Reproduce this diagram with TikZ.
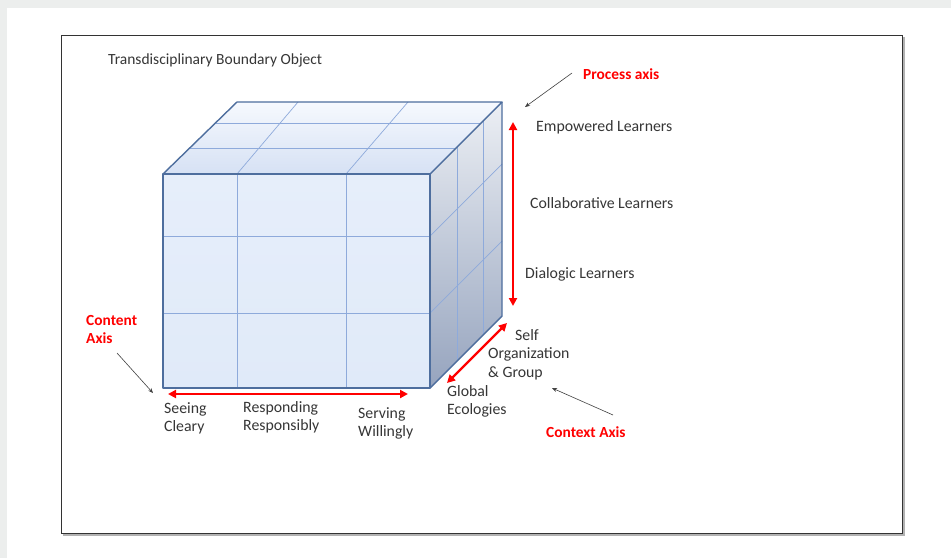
\documentclass[tikz,border=0pt]{standalone}
\usepackage{fontspec}
\setmainfont{Carlito}
\usetikzlibrary{arrows.meta,calc}

\definecolor{pagegray}{HTML}{ECEEED}
\definecolor{edgeblue}{HTML}{4E6E9E}
\definecolor{gridblue}{HTML}{8EAADB}
\definecolor{labelgray}{HTML}{363636}
\definecolor{axisred}{HTML}{FF0000}
\newcommand{\lblfont}{\fontsize{15.8}{18.5}\selectfont}

\begin{document}
\begin{tikzpicture}[x=1pt,y=-1pt]
    \tikzstyle{lbltext} = [anchor=base west, inner sep=0pt, text=labelgray, font=\lblfont, align=left]
    \tikzstyle{axisname} = [lbltext, text=axisred, font=\fontsize{15.4}{18.5}\selectfont\bfseries]
    \tikzstyle{redaxis} = [draw=axisred, line width=2.4pt, {Triangle[length=8pt,width=8pt]}-{Triangle[length=8pt,width=8pt]}]
    \tikzstyle{pointer} = [draw=black!75, line width=0.6pt, -{Stealth[length=5pt,width=4pt]}]
    \tikzstyle{gridline} = [draw=gridblue, line width=0.7pt]
    \tikzstyle{cubeedge} = [draw=edgeblue, line width=1.4pt, line join=round]

    % page and frame
    \fill[pagegray] (0,0) rectangle (951,558);
    \fill[white] (7,8) rectangle (951,558);
    \draw[black!30, line width=1.6pt] (63,535) -- (904,535) -- (904,37);
    \draw[black!80, line width=0.9pt] (61,35) rectangle (902,533);

    % cube corners
    \coordinate (fTL) at (163,174);
    \coordinate (fTR) at (430,174);
    \coordinate (fBL) at (163,388);
    \coordinate (fBR) at (430,388);
    \coordinate (bTL) at (237,102);
    \coordinate (bTR) at (502,102);
    \coordinate (bBR) at (502,316);

    % faces
    \shade[top color={rgb,255:red,246;green,249;blue,254}, bottom color={rgb,255:red,214;green,225;blue,244}]
        (fTL) -- (bTL) -- (bTR) -- (fTR) -- cycle;
    \shade[top color={rgb,255:red,236;green,239;blue,244}, bottom color={rgb,255:red,150;green,164;blue,190}]
        (fTR) -- (bTR) -- (bBR) -- (fBR) -- cycle;
    \shade[top color={rgb,255:red,230;green,238;blue,250}, middle color={rgb,255:red,194;green,212;blue,240},
        bottom color={rgb,255:red,224;green,234;blue,249}] (fTL) rectangle (fBR);

    % grid on the faces
    \foreach \t in {0.35,0.71}
        \draw[gridline] ($(fTL)!\t!(bTL)$) -- ($(fTR)!\t!(bTR)$);
    \draw[gridline] (237,174) -- (298,102);
    \draw[gridline] (346,174) -- (408,102);
    \draw[gridline] (457,147) -- (457,361);
    \draw[gridline] (483,121) -- (483,335);
    \draw[gridline] (430,236) -- (502,164);
    \draw[gridline] (430,313) -- (502,241);
    \foreach \x in {237,346}
        \draw[gridline] (\x,174) -- (\x,388);
    \foreach \y in {236,313}
        \draw[gridline] (163,\y) -- (430,\y);

    % edges
    \draw[cubeedge] (fTL) rectangle (fBR);
    \draw[cubeedge] (fTL) -- (bTL) -- (bTR) -- (fTR);
    \draw[cubeedge] (bTR) -- (bBR) -- (fBR);

    % labels (base = last line)
    \node[lbltext, font=\fontsize{15.5}{18}\selectfont] (title) at (108,64) {Transdisciplinary Boundary Object};
    \node[axisname] (proc) at (583,79) {Process axis};
    \node[lbltext] (empow) at (536,131) {Empowered Learners};
    \node[lbltext] (collab) at (530,208) {Collaborative Learners};
    \node[lbltext] (dialog) at (525,278) {Dialogic Learners};
    \node[lbltext] (selforg) at (488,377) {\hspace*{27pt}Self\\Organization\\\& Group};
    \node[lbltext] (global) at (447,414.5) {Global\\Ecologies};
    \node[axisname] (content) at (86,343.5) {Content\\Axis};
    \node[lbltext] (seeing) at (164,431.5) {Seeing\\Cleary};
    \node[lbltext] (respond) at (243,430.5) {Responding\\Responsibly};
    \node[lbltext] (serving) at (358,436.5) {Serving\\Willingly};
    \node[axisname] (context) at (546,437) {Context Axis};

    % axes
    \coordinate (procTop) at (513,122);
    \coordinate (procBot) at (513,306);
    \coordinate (contL) at (168,394);
    \coordinate (contR) at (408,394);
    \coordinate (ctxBack) at (507,323);
    \coordinate (ctxFront) at (447,383);
    \draw[redaxis] (procBot) -- (procTop);
    \draw[redaxis] (contL) -- (contR);
    \draw[redaxis] (ctxFront) -- (ctxBack);

    % pointers
    \coordinate (procFrom) at (572,73);
    \coordinate (procTo) at (525,107);
    \coordinate (contFrom) at (117,353);
    \coordinate (contTo) at (153,393);
    \coordinate (ctxFrom) at (613,415);
    \coordinate (ctxTo) at (552,388);
    \draw[pointer] (procFrom) -- (procTo);
    \draw[pointer] (contFrom) -- (contTo);
    \draw[pointer] (ctxFrom) -- (ctxTo);
\end{tikzpicture}
\end{document}
